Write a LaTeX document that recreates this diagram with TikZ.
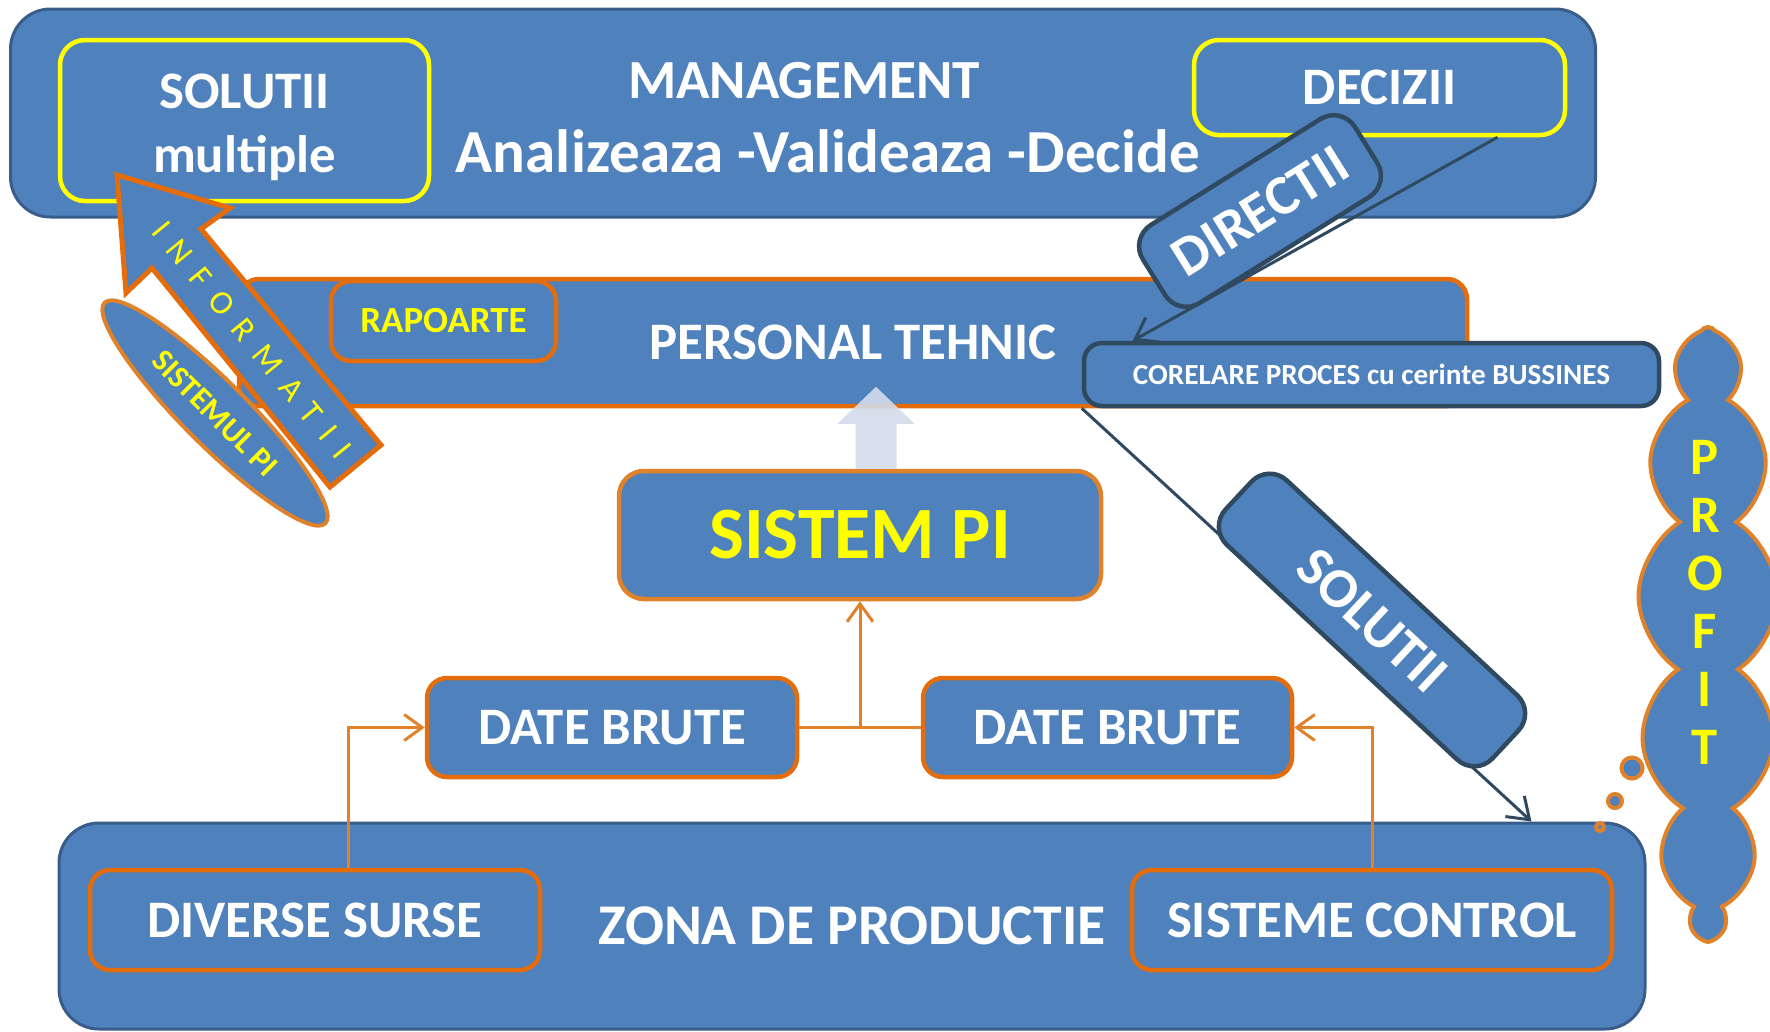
\documentclass[tikz,border=0pt]{standalone}
\usepackage{fontspec}
\setmainfont{Carlito}
\newfontfamily\spacedfont[LetterSpace=44]{Carlito}
\usetikzlibrary{calc,arrows.meta,shapes.geometric,shapes.symbols}

\begin{document}
\begin{tikzpicture}[x=0.1mm,y=-0.1mm,
    bluebox/.style={rounded corners=2mm,fill=pblue,text=white,inner sep=0pt,align=center,
        font=\bfseries\fontsize{15}{18.2}\selectfont},
    yellowbox/.style={bluebox,draw=pyellow,line width=0.45mm,rounded corners=2.5mm},
    orangebox/.style={bluebox,draw=porange,line width=0.45mm},
    slatebox/.style={bluebox,draw=pslate,line width=0.45mm,rounded corners=1.8mm},
    zonebox/.style={bluebox,draw=pframe,line width=0.3mm,rounded corners=4mm},
    bubble/.style={circle,draw=plorange,fill=pblue,line width=0.4mm,inner sep=0pt},
    orangeline/.style={draw=plorange,line width=0.3mm,-{Straight Barb[length=1.8mm,width=2.6mm]}},
    slateline/.style={draw=pslate,line width=0.3mm,-{Straight Barb[length=2mm,width=2.8mm]}}]
    \definecolor{pblue}{HTML}{4F81BD}
    \definecolor{pframe}{HTML}{385D8A}
    \definecolor{porange}{HTML}{E46C0A}
    \definecolor{plorange}{HTML}{E0822A}
    \definecolor{pslate}{HTML}{2F4A60}
    \definecolor{pyellow}{HTML}{FFFF00}
    \definecolor{plight}{HTML}{D3DBEA}
    \useasboundingbox (0,0) rectangle (1770,1031);

    % management
    \node[zonebox,minimum width=158.5mm,minimum height=20.8mm] (mgmt) at (803,113) {};
    \node[yellowbox,minimum width=36.9mm,minimum height=16.1mm] (solmult) at (244.5,120.5) {};
    \node[text=white,align=center,font=\bfseries\fontsize{15}{18.2}\selectfont] (solmulttext) at (244.5,127) {SOLUTII\\multiple};
    \node[yellowbox,minimum width=37.1mm,minimum height=9.5mm] (decizii) at (1379.5,87.5) {DECIZII};
    \node[text=white,font=\bfseries\fontsize{15.7}{18}\selectfont] (mtitle) at (804,81) {MANAGEMENT};
    \node[text=white,font=\bfseries\fontsize{17.4}{18}\selectfont] (mtasks) at (828,151) {Analizeaza -Valideaza -Decide};

    % personal tehnic
    \node[orangebox,minimum width=122.8mm,minimum height=12.7mm] (personal) at (853,342.5) {PERSONAL TEHNIC};
    \node[orangebox,text=pyellow,font=\bfseries\fontsize{10.5}{12}\selectfont,
        minimum width=22.5mm,minimum height=8mm] (rapoarte) at (443.5,321) {RAPOARTE};

    % informatii arrow
    \draw[draw=porange,fill=pblue,line width=0.5mm] (117,175) -- (230,208) -- (201,229) -- (381,445)
        -- (330,487) -- (152,268) -- (126,293) -- cycle;
    \node[text=pyellow,rotate=-50.8,font=\spacedfont\fontsize{9.5}{10}\selectfont] (informatii) at (252,340) {INFORMATII};
    \node[ellipse,draw=plorange,fill=pblue,line width=0.4mm,minimum width=31.2mm,minimum height=6.4mm,
        inner sep=0pt,rotate=-45,text=pyellow,font=\bfseries\fontsize{9}{10}\selectfont] (sistemul) at (215,413) {SISTEMUL PI};

    % corelare
    \node[slatebox,font=\bfseries\fontsize{8.3}{10}\selectfont,minimum width=57.5mm,minimum height=6.3mm] (corelare)
        at (1371.5,374.5) {CORELARE PROCES cu cerinte BUSSINES};

    % sistem pi
    \node[orangebox,draw=plorange,rounded corners=2.5mm,text=pyellow,font=\bfseries\fontsize{21}{24}\selectfont,
        minimum width=48.2mm,minimum height=12.8mm] (sistem) at (860,535) {SISTEM PI};
    \coordinate (upbase) at ([xshift=1.6mm]sistem.north);
    \fill[plight,fill opacity=0.9] ([xshift=-2.05mm]upbase) -- ++(0,-45) -- ++(-18,0) -- ++(38.5,-37)
        -- ++(38.5,37) -- ++(-18,0) -- ++(0,45) -- cycle;

    % date brute
    \node[orangebox,minimum width=37mm,minimum height=9.9mm] (datel) at (612,727.5) {DATE BRUTE};
    \node[orangebox,minimum width=36.9mm,minimum height=9.9mm] (dater) at (1107.5,727.5) {DATE BRUTE};
    \draw[draw=plorange,line width=0.3mm] (datel.east) -- (dater.west);
    \draw[orangeline] (sistem.south |- datel.east) -- (sistem.south);

    % zona de productie
    \node[zonebox,font=\bfseries\fontsize{16.4}{18}\selectfont,minimum width=158.6mm,minimum height=20.6mm] (zona)
        at (852,926) {ZONA DE PRODUCTIE};
    \node[orangebox,minimum width=45mm,minimum height=10mm] (diverse) at (315,920) {DIVERSE SURSE};
    \node[orangebox,minimum width=48mm,minimum height=10mm] (sisteme) at (1372,920) {SISTEME CONTROL};
    \draw[orangeline] ([xshift=3.3mm]diverse.north) |- (datel.west);
    \draw[orangeline] (sisteme.north) |- (dater.east);

    % directii
    \draw[slateline] ([xshift=11.8mm]decizii.south) -- ([xshift=5.1mm]corelare.north west);
    \node[slatebox,rotate=32,rounded corners=2.5mm,minimum width=25mm,minimum height=9.2mm,
        font=\bfseries\fontsize{16}{18}\selectfont] (directii) at (1260,211) {DIRECTII};

    % solutii
    \draw[slateline] (corelare.south west) -- ([xshift=-11.5mm]zona.north east);
    \node[slatebox,rotate=-43,rounded corners=2.5mm,minimum width=36.5mm,minimum height=8.8mm,
        font=\bfseries\fontsize{16}{18}\selectfont] (solutii) at (1372,620) {SOLUTII};

    % profit
    \node[cloud,cloud puffs=13,cloud puff arc=115,cloud ignores aspect,draw=plorange,fill=pblue,
        line width=0.4mm,minimum width=14mm,minimum height=61mm,inner sep=0pt] (cloud) at (1708,632) {};
    \node[text=pyellow,align=center,font=\bfseries\fontsize{15}{16.5}\selectfont] (profit) at (1705,602) {P\\R\\O\\F\\I\\T};
    \node[bubble,minimum size=2.1mm] (bubblea) at (1632,768) {};
    \node[bubble,minimum size=1.4mm] (bubbleb) at (1615,801) {};
    \node[bubble,minimum size=0.8mm] (bubblec) at (1600,827) {};
\end{tikzpicture}
\end{document}
